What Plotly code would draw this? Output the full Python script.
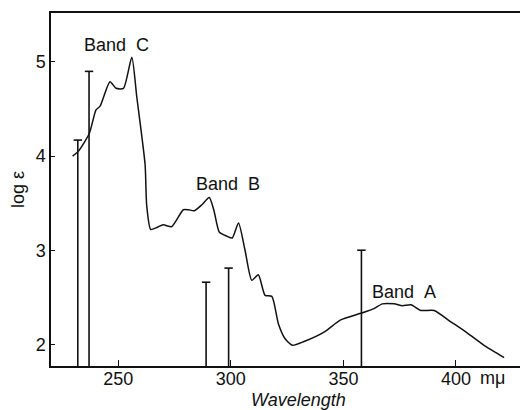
import plotly.graph_objects as go

# Absorption curve (wavelength in mμ, log ε)
curve_wl = [229.7, 232.2, 237.1, 240.1, 241.9, 246.3, 249.0, 252.3, 256.0, 258.2,
            261.9, 262.6, 264.4, 267.0, 270.0, 273.7, 278.9, 281.1, 283.8, 287.0,
            290.4, 292.5, 294.9, 298.2, 300.6, 303.4, 306.3, 309.3, 312.2, 315.2,
            318.2, 321.1, 324.1, 327.3, 332.5, 341.4, 348.8, 357.7, 363.6, 367.3,
            372.5, 376.2, 380.0, 384.4, 390.3, 397.7, 405.1, 412.5, 421.4]
curve_log = [4.00, 4.05, 4.24, 4.49, 4.53, 4.79, 4.72, 4.72, 5.05, 4.63,
             3.91, 3.48, 3.22, 3.24, 3.27, 3.25, 3.43, 3.43, 3.42, 3.48,
             3.56, 3.42, 3.19, 3.15, 3.13, 3.29, 3.00, 2.68, 2.74, 2.52,
             2.51, 2.22, 2.06, 1.99, 2.03, 2.13, 2.26, 2.33, 2.38, 2.43,
             2.43, 2.41, 2.42, 2.36, 2.36, 2.24, 2.12, 1.99, 1.86]

# Calculated transitions (stick spectrum)
stick_wl = [232, 237, 289, 299, 358]
stick_log = [4.17, 4.90, 2.66, 2.81, 3.00]

band_labels = ["Band C", "Band B", "Band A"]
band_wl = [249.0, 298.8, 376.9]
band_log = [5.18, 3.70, 2.56]

x_ticks = [250, 300, 350, 400]
x_ticktext = ["250", "300", "350", "400"]
y_ticks = [2, 3, 4, 5]

x_range = [220.1, 432]
y_range = [1.77, 5.52]

FONT = "Liberation Sans, Arial, sans-serif"
INK = "#111111"

fig = go.Figure()

# sticks
sx, sy = [], []
for w, v in zip(stick_wl, stick_log):
    sx += [w, w, None]
    sy += [y_range[0], v, None]
fig.add_trace(go.Scatter(x=sx, y=sy, mode="lines",
                         line=dict(color=INK, width=1.6), hoverinfo="skip",
                         showlegend=False))
fig.add_trace(go.Scatter(x=stick_wl, y=stick_log, mode="markers",
                         marker=dict(symbol="line-ew", size=6,
                                     line=dict(color=INK, width=1.6)),
                         showlegend=False))

# curve
fig.add_trace(go.Scatter(x=curve_wl, y=curve_log, mode="lines",
                         line=dict(color=INK, width=1.5, shape="spline", smoothing=0.6),
                         showlegend=False))

for t, w, v in zip(band_labels, band_wl, band_log):
    fig.add_annotation(x=w, y=v, text=t.replace(" ", "&nbsp;&nbsp;"), showarrow=False,
                       font=dict(family=FONT, size=18, color=INK))

fig.add_annotation(x=416.1, xref="x", y=-0.034, yref="paper", text="mμ",
                   showarrow=False, font=dict(family=FONT, size=18, color=INK),
                   yanchor="middle")
fig.add_annotation(x=0.518, xref="paper", y=-0.095, yref="paper", text="<i>Wavelength</i>",
                   showarrow=False, font=dict(family=FONT, size=18, color=INK),
                   yanchor="middle")

# page body has a default 8px margin, so the figure is sized to fill the rest
fig.update_layout(
    width=520, height=402,
    margin=dict(l=43, r=0, t=5, b=44),
    paper_bgcolor="white", plot_bgcolor="white",
    showlegend=False,
    font=dict(family=FONT, size=18, color=INK),
)
fig.update_xaxes(range=x_range, tickvals=x_ticks, ticktext=x_ticktext,
                 ticks="inside", ticklen=6, tickwidth=1.2, tickcolor=INK,
                 showline=True, linecolor=INK, linewidth=1.5, mirror=True,
                 showgrid=False, zeroline=False, automargin=False,
                 ticklabelstandoff=-4,
                 tickfont=dict(family=FONT, size=18, color=INK))
fig.update_yaxes(range=y_range, tickvals=y_ticks,
                 ticks="inside", ticklen=4, tickwidth=1.2, tickcolor=INK,
                 showline=True, linecolor=INK, linewidth=1.5, mirror=False,
                 showgrid=False, zeroline=False, automargin=False,
                 tickfont=dict(family=FONT, size=18, color=INK),
                 title=dict(text="log ε", font=dict(family=FONT, size=18, color=INK),
                            standoff=8))

fig.write_html("out.html")
